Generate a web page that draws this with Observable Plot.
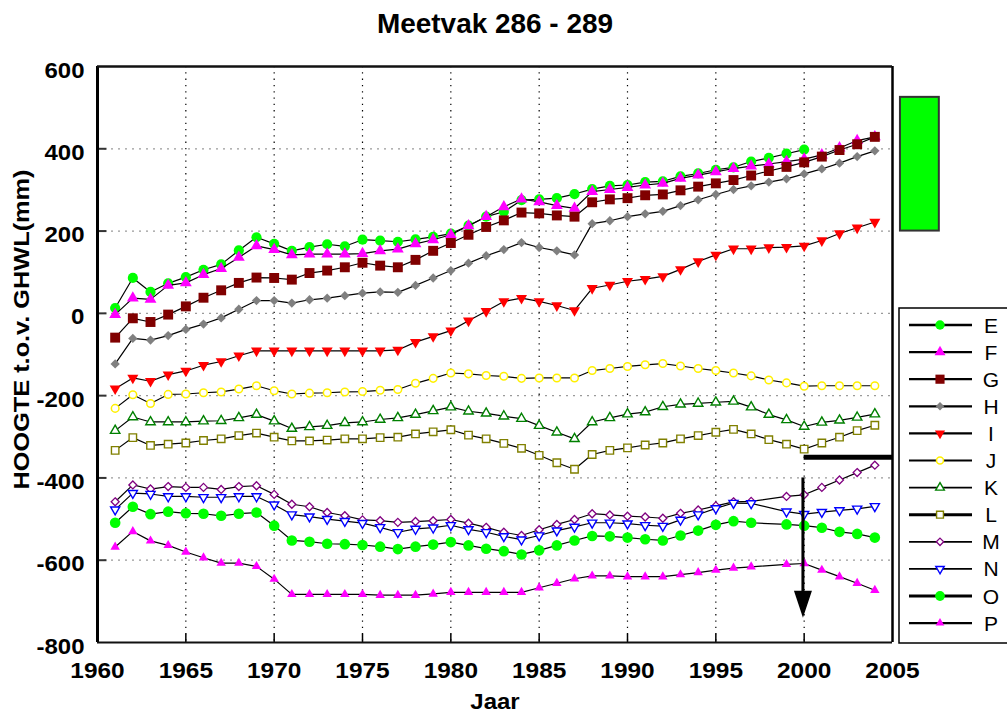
<!DOCTYPE html>
<html><head><meta charset="utf-8">
<script src="https://cdn.jsdelivr.net/npm/d3@7"></script>
<script src="https://cdn.jsdelivr.net/npm/@observablehq/plot@0.6"></script>
<style>
html,body{margin:0;padding:0;background:#fff;overflow:hidden}
svg{font-family:"Liberation Sans",Arial,sans-serif}
</style>
</head><body><div id="chart"></div>
<script>
const titleText = "Meetvak 286 - 289";
const xLabel = "Jaar";
const yLabel = "HOOGTE t.o.v. GHWL(mm)";
const xTicks = [1960,1965,1970,1975,1980,1985,1990,1995,2000,2005];
const yTicks = [-800,-600,-400,-200,0,200,400,600];
const years = [1961,1962,1963,1964,1965,1966,1967,1968,1969,1970,
  1971,1972,1973,1974,1975,1976,1977,1978,1979,1980,
  1981,1982,1983,1984,1985,1986,1987,1988,1989,1990,
  1991,1992,1993,1994,1995,1996,1997,1998,1999,2000,
  2001,2002,2003,2004];
const seriesNames = ["E","F","G","H","I","J","K","L","M","N","O","P"];

const E = [13,86,52,73,88,106,119,153,185,169, 152,161,168,163,179,177,174,180,186,194, 213,235,247,275,277,280,290,302,310,312, 319,321,333,340,349,355,369,378,388,398, null,null,null,null];
const F = [-3,37,34,68,74,94,109,136,164,155, 142,144,144,144,145,152,156,169,179,191, 213,235,259,278,271,262,255,296,301,306, 312,316,328,336,344,352,358,363,369,375, 385,402,420,429];
const G = [-59,-12,-21,-3,17,38,56,74,87,86, 82,98,104,112,123,116,112,130,152,171, 191,210,226,245,243,238,235,270,277,280, 287,289,299,308,316,324,335,346,356,367, 381,397,411,429];
const H = [-123,-61,-65,-54,-39,-26,-11,10,31,31, 25,33,37,43,49,52,51,68,86,104, 122,140,155,172,160,152,142,218,225,235, 242,248,262,276,289,301,310,319,327,339, 351,365,381,395];
const I = [-183,-157,-165,-149,-140,-126,-117,-103,-91,-91, -91,-91,-91,-91,-91,-91,-89,-70,-56,-42, -18,5,29,37,29,19,7,61,69,78, 83,90,107,126,142,157,157,160,161,164, 177,194,208,222];
const J = [-231,-198,-219,-197,-196,-193,-191,-184,-176,-188, -196,-194,-193,-191,-190,-187,-185,-170,-158,-145, -147,-151,-153,-158,-157,-157,-157,-139,-134,-129, -125,-122,-128,-134,-139,-145,-152,-162,-169,-177, -176,-176,-176,-176];
const K = [-285,-252,-264,-264,-264,-262,-261,-254,-246,-262, -280,-276,-273,-266,-264,-258,-254,-246,-237,-228, -238,-243,-250,-256,-273,-289,-305,-264,-254,-245, -240,-227,-221,-219,-216,-214,-228,-246,-259,-275, -265,-260,-253,-245];
const L = [-333,-302,-321,-318,-315,-309,-305,-297,-291,-301, -310,-310,-308,-305,-305,-302,-301,-293,-288,-283, -296,-305,-316,-328,-345,-363,-379,-343,-333,-327, -320,-315,-305,-297,-289,-282,-293,-307,-318,-330, -315,-301,-285,-272];
const M = [-458,-417,-427,-421,-423,-423,-428,-421,-419,-440, -464,-470,-484,-492,-502,-504,-508,-506,-504,-501, -510,-520,-532,-540,-526,-513,-501,-487,-490,-493, -495,-498,-486,-478,-468,-458,-457,null,-445,-441, -423,-405,-387,-369];
const N = [-477,-437,-439,-445,-445,-447,-447,-445,-445,-465, -489,-494,-500,-505,-510,-520,-532,-524,-521,-515, -525,-532,-542,-550,-540,-528,-519,-509,-509,-511, -515,-517,-502,-489,-474,-461,-462,null,-482,-488, -483,-479,-475,-469];
const O = [-509,-470,-488,-482,-486,-487,-492,-487,-484,-516, -552,-555,-560,-561,-563,-567,-573,-567,-562,-556, -564,-572,-578,-586,-576,-564,-552,-541,-542,-545, -549,-552,-540,-528,-514,-505,-509,null,-513,-516, -521,-531,-536,-545];
const P = [-568,-530,-553,-564,-580,-594,-607,-607,-615,-646, -683,-683,-683,-683,-683,-685,-685,-685,-682,-678, -678,-678,-678,-678,-667,-656,-645,-638,-638,-640, -640,-640,-635,-630,-624,-619,-616,null,-610,-608, -624,-640,-656,-673];

// annotations (data coordinates)
const greenBox = [{x1: 2005.45, x2: 2007.65, y1: 200, y2: 525}];
const thickLine = [{y: -350, x1: 2000, x2: 2005}];
const arrowAnno = [{x: 1999.93, from: -400, shaftEnd: -700, tip: -740}];

const seriesValues = {E,F,G,H,I,J,K,L,M,N,O,P};

// styles
const styles = {
  E:{symbol:"circle", r:5.1, fill:"#00ff00", stroke:"none", sw:0, lw:2.3},
  F:{symbol:"triangle", r:4.4, fill:"#ff00ff", stroke:"none", sw:0, lw:2.3},
  G:{symbol:"square", r:5.6, fill:"#800000", stroke:"none", sw:0, lw:2.3},
  H:{symbol:"diamond2", r:4.2, fill:"#808080", stroke:"none", sw:0, lw:2.3},
  I:{symbol:"triangle", rotate:180, r:4.1, fill:"#ff0000", stroke:"none", sw:0, lw:2.3},
  J:{symbol:"circle", r:3.8, fill:"#ffffff", stroke:"#fff000", sw:1.5, lw:1.8},
  K:{symbol:"triangle", r:3.5, fill:"#ffffff", stroke:"#008000", sw:1.4, lw:1.8},
  L:{symbol:"square", r:4.2, fill:"#ffffff", stroke:"#808000", sw:1.4, lw:3},
  M:{symbol:"diamond2", r:3.6, fill:"#ffffff", stroke:"#800080", sw:1.3, lw:1.8},
  N:{symbol:"triangle", rotate:180, r:3.4, fill:"#ffffff", stroke:"#0000ff", sw:1.4, lw:1.8},
  O:{symbol:"circle", r:5.3, fill:"#00ff00", stroke:"none", sw:0, lw:3},
  P:{symbol:"triangle", r:3.5, fill:"#ff00ff", stroke:"none", sw:0, lw:2.3}
};

const rows = {};
for (const s of seriesNames) {
  rows[s] = years.map((yr, i) => ({series: s, year: yr, value: seriesValues[s][i]}))
                 .filter(d => d.value != null);
}

const arrowHead = {draw(ctx){ ctx.moveTo(-9,-27); ctx.lineTo(9,-27); ctx.lineTo(0,0); ctx.closePath(); }};
const vTick = {draw(ctx){ ctx.moveTo(0,0); ctx.lineTo(0,-9); }};
const hTick = {draw(ctx){ ctx.moveTo(0,0); ctx.lineTo(9,0); }};

const innerX = xTicks.slice(1, -1);
const innerY = yTicks.slice(1, -1);

const marks = [
  Plot.gridY(innerY, {stroke:"#9a9a9a", strokeOpacity:1, strokeWidth:1.3, strokeDasharray:"2,5"}),
  Plot.gridX(innerX, {stroke:"#000", strokeOpacity:1, strokeWidth:1.2, strokeDasharray:"1.3,5"}),
  Plot.dot(innerX, {x: d => d, y: yTicks[0], symbol: vTick, stroke:"#000", strokeWidth:1.5, fill:"none"}),
  Plot.dot(innerY, {y: d => d, x: xTicks[0], symbol: hTick, stroke:"#333", strokeWidth:2, fill:"none"}),
];
for (const s of seriesNames) {
  const st = styles[s];
  marks.push(Plot.line(rows[s], {x:"year", y:"value", stroke:"#000", strokeWidth:1.2}));
  marks.push(Plot.dot(rows[s], {x:"year", y:"value", symbol: st.symbol, r: st.r, fill: st.fill,
    stroke: st.stroke, strokeWidth: st.sw, rotate: st.rotate || 0}));
}
marks.push(
  Plot.ruleY(thickLine, {y:"y", x1:"x1", x2:"x2", stroke:"#000", strokeWidth:5}),
  Plot.ruleX(arrowAnno, {x:"x", y1:"from", y2:"shaftEnd", stroke:"#000", strokeWidth:3}),
  Plot.dot(arrowAnno, {x:"x", y:"tip", symbol: arrowHead, fill:"#000", stroke:"none"}),
  Plot.rect(greenBox, {x1:"x1", x2:"x2", y1:"y1", y2:"y2", fill:"#00ff00", stroke:"#333", strokeWidth:2}),
  // frame
  Plot.ruleX([xTicks[0]], {stroke:"#000", strokeWidth:3}),
  Plot.ruleX([xTicks[xTicks.length-1]], {stroke:"#000", strokeWidth:2.5}),
  Plot.ruleY([yTicks[yTicks.length-1]], {stroke:"#111", strokeWidth:2.5}),
  Plot.ruleY([yTicks[0]], {stroke:"#111", strokeWidth:2.2}),
  // tick labels
  Plot.text(xTicks, {x: d => d, frameAnchor:"bottom", lineAnchor:"middle", dy:28, text: d => String(d), fontSize:22, fontWeight:"bold", fill:"#000"}),
  Plot.text(yTicks, {y: d => d, frameAnchor:"left", lineAnchor:"middle", dx:-13, dy:4, textAnchor:"end", text: d => String(d), fontSize:22, fontWeight:"bold", fill:"#000"}),
  Plot.text([xLabel], {frameAnchor:"bottom", lineAnchor:"middle", textAnchor:"middle", dy:59, fontSize:22, fontWeight:"bold", fill:"#000"}),
  Plot.text([yLabel], {frameAnchor:"left", lineAnchor:"middle", textAnchor:"middle", dx:-76, dy:-25, rotate:-90, fontSize:22, fontWeight:"bold", fill:"#000"}),
  Plot.text([titleText], {frameAnchor:"top", lineAnchor:"middle", textAnchor:"middle", dy:-42, fontSize:27, fontWeight:"bold", fill:"#000"})
);

const chart = Plot.plot({
  width: 1007, height: 713,
  marginLeft: 97, marginRight: 115, marginTop: 66, marginBottom: 71,
  x: {domain: [xTicks[0], xTicks[xTicks.length-1]], axis: null},
  y: {domain: [yTicks[0], yTicks[yTicks.length-1]], axis: null},
  style: {background: "#fff", overflow: "hidden", fontFamily: "'Liberation Sans', Arial, sans-serif"},
  marks
});

// legend
const symMap = {circle: d3.symbolCircle, triangle: d3.symbolTriangle, square: d3.symbolSquare, diamond2: d3.symbolDiamond2};
const svg = d3.select(chart);
const lg = svg.append("g").attr("aria-label", "legend");
lg.append("rect").attr("x", 899).attr("y", 308).attr("width", 120).attr("height", 335)
  .attr("fill", "#fff").attr("stroke", "#000").attr("stroke-width", 1.5);
seriesNames.forEach((s, i) => {
  const st = styles[s];
  const y = 325 + i * 27.1;
  lg.append("line").attr("x1", 909).attr("x2", 972).attr("y1", y).attr("y2", y)
    .attr("stroke", "#000").attr("stroke-width", st.lw);
  const r = st.r * 0.92;
  lg.append("path")
    .attr("d", d3.symbol().type(symMap[st.symbol]).size(r * r * Math.PI)())
    .attr("transform", `translate(940,${y}) rotate(${st.rotate || 0})`)
    .attr("fill", st.fill).attr("stroke", st.stroke === "none" ? null : st.stroke)
    .attr("stroke-width", st.sw);
  lg.append("text").attr("x", 991).attr("y", y).attr("dy", "0.36em")
    .attr("font-size", 21).attr("fill", "#000").attr("class", "legend-label").text(s);
});

document.getElementById("chart").appendChild(chart);

// widen texts to match the reference's glyph proportions
const xTickSet = new Set(xTicks.map(String));
const yTickSet = new Set(yTicks.map(String));
d3.select(chart).selectAll("text").each(function() {
  if (this.classList.contains("legend-label")) return;
  const t = this.textContent;
  let factor = null;
  if (t === yLabel) factor = 1.15;
  else if (t === xLabel) factor = 1.09;
  else if (t === titleText) factor = 1.035;
  else if (xTickSet.has(t) && +t >= 1960) factor = 1.11;
  else if (yTickSet.has(t)) factor = 1.09;
  if (factor) {
    const w = this.getComputedTextLength();
    this.setAttribute("textLength", (w * factor).toFixed(1));
    this.setAttribute("lengthAdjust", "spacingAndGlyphs");
  }
});
</script>
</body></html>
